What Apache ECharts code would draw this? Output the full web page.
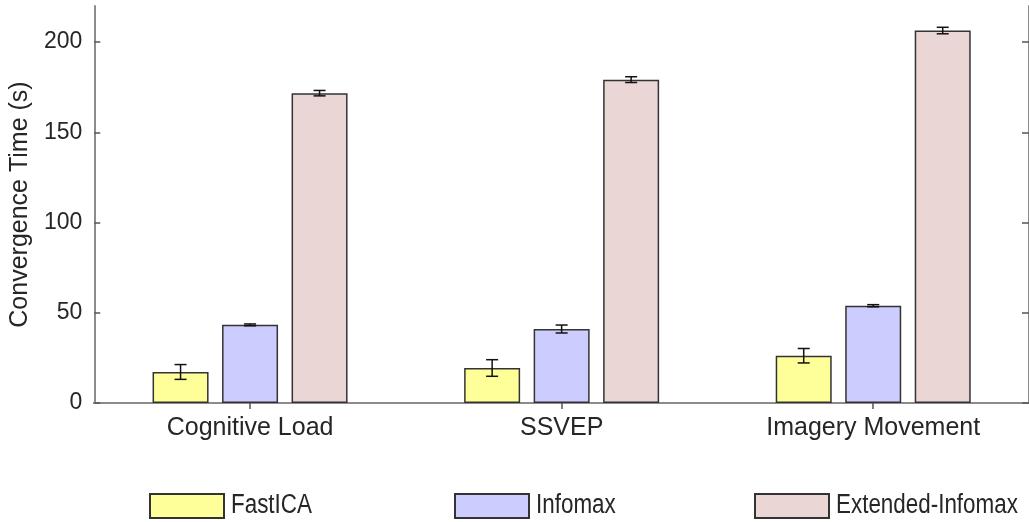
<!DOCTYPE html>
<html>
<head>
<meta charset="utf-8">
<script src="https://cdn.jsdelivr.net/npm/echarts@6/dist/echarts.min.js"></script>
<style>
  html, body { margin: 0; padding: 0; background: #fff; }
  #chart { width: 1029px; height: 522px; }
</style>
</head>
<body>
<div id="chart"></div>
<script>
// Paradigms on the x axis
const categories = ['Cognitive Load', 'SSVEP', 'Imagery Movement'];
const seriesNames = ['FastICA', 'Infomax', 'Extended-Infomax'];

// Mean convergence time (s) per algorithm
const fastICA = [17.2, 19.4, 26.2];
const infomax = [43.3, 41.0, 53.9];
const extendedInfomax = [171.7, 179.2, 206.4];

// Half-width of the error bars (s)
const fastICAErr = [4.1, 4.6, 4.0];
const infomaxErr = [0.5, 2.2, 0.6];
const extendedInfomaxErr = [1.5, 1.6, 1.8];

// Y axis ticks
const yTicks = [0, 50, 100, 150, 200];

const means = [fastICA, infomax, extendedInfomax];
const errs = [fastICAErr, infomaxErr, extendedInfomaxErr];
const colors = ['#FFFF99', '#CCCCFF', '#EBD6D6'];

const BAR_W = 56;
const BAR_GAP = 13.5;
const textColor = '#262626';
const frameColor = '#8c8c8c';
const font = 'Liberation Sans, Arial, sans-serif';

const chart = echarts.init(document.getElementById('chart'), null, { renderer: 'canvas' });

const barSeries = seriesNames.map((name, i) => ({
  name: name,
  type: 'bar',
  xAxisIndex: 0,
  yAxisIndex: 0,
  data: means[i],
  barWidth: BAR_W,
  barGap: (BAR_GAP / BAR_W * 100) + '%',
  itemStyle: { color: colors[i], borderColor: '#333333', borderWidth: 1.5 },
  emphasis: { disabled: true },
  z: 2
}));

// Error bars drawn on top of each bar
const errorSeries = seriesNames.map((name, i) => ({
  type: 'custom',
  xAxisIndex: 0,
  yAxisIndex: 0,
  silent: true,
  z: 5,
  data: categories.map((c, k) => [k, means[i][k] - errs[i][k], means[i][k] + errs[i][k]]),
  renderItem: function (params, api) {
    const k = api.value(0);
    const lo = api.coord([k, api.value(1)]);
    const hi = api.coord([k, api.value(2)]);
    const x = lo[0] + (i - 1) * (BAR_W + BAR_GAP);
    const cap = 6;
    const style = { stroke: '#111111', lineWidth: 1.5, fill: null };
    return {
      type: 'group',
      children: [
        { type: 'line', shape: { x1: x, y1: lo[1], x2: x, y2: hi[1] }, style: style },
        { type: 'line', shape: { x1: x - cap, y1: lo[1], x2: x + cap, y2: lo[1] }, style: style },
        { type: 'line', shape: { x1: x - cap, y1: hi[1], x2: x + cap, y2: hi[1] }, style: style }
      ]
    };
  }
}));

// Legend: one swatch per series, with condensed text labels beside them
const legendLefts = [149, 454, 754];
const SWATCH_W = 74;
const SWATCH_H = 24;
const LEGEND_TOP = 493;
const legends = seriesNames.map((name, i) => ({
  data: [name],
  left: legendLefts[i],
  top: LEGEND_TOP,
  padding: 0,
  icon: 'rect',
  itemWidth: SWATCH_W,
  itemHeight: SWATCH_H,
  itemGap: 0,
  selectedMode: false,
  formatter: () => '',
  textStyle: { fontSize: 1, padding: 0 }
}));
const legendTexts = seriesNames.map((name, i) => ({
  type: 'text',
  x: legendLefts[i] + SWATCH_W + 8,
  y: LEGEND_TOP + SWATCH_H / 2 + 1,
  scaleX: 0.83,
  silent: true,
  style: {
    text: name,
    fill: textColor,
    fontFamily: font,
    fontSize: 27,
    align: 'left',
    verticalAlign: 'middle'
  }
}));

chart.setOption({
  animation: false,
  backgroundColor: '#ffffff',
  grid: { left: 94, right: -4, top: 6, bottom: 119 },
  legend: legends,
  graphic: legendTexts,
  xAxis: [
    {
      type: 'category',
      data: categories,
      position: 'bottom',
      axisLine: { lineStyle: { color: '#262626', width: 2 } },
      axisTick: { show: false },
      axisLabel: { color: textColor, fontFamily: font, fontSize: 25, margin: 13 },
      splitLine: { show: false }
    },
    {
      type: 'category',
      data: categories,
      position: 'top',
      axisLine: { lineStyle: { color: frameColor, width: 2 } },
      axisTick: { show: true, inside: true, alignWithLabel: true, length: 6, lineStyle: { color: '#555555', width: 1.5 } },
      axisLabel: { show: false },
      splitLine: { show: false }
    }
  ],
  yAxis: [
    {
      type: 'value',
      min: 0,
      max: 220,
      interval: 50,
      position: 'left',
      name: 'Convergence Time (s)',
      nameLocation: 'middle',
      nameGap: 60,
      nameTextStyle: { color: textColor, fontFamily: font, fontSize: 25 },
      axisLine: { show: true, lineStyle: { color: frameColor, width: 2 } },
      axisTick: { show: true, inside: true, length: 6, customValues: yTicks, lineStyle: { color: '#555555', width: 1.5 } },
      axisLabel: { color: textColor, fontFamily: font, fontSize: 23, margin: 12, customValues: yTicks },
      splitLine: { show: false }
    },
    {
      type: 'value',
      min: 0,
      max: 220,
      interval: 50,
      position: 'right',
      axisLine: { show: true, lineStyle: { color: frameColor, width: 2 } },
      axisTick: { show: true, inside: true, length: 7, customValues: yTicks, lineStyle: { color: '#555555', width: 1.5 } },
      axisLabel: { show: false },
      splitLine: { show: false }
    }
  ],
  series: barSeries.concat(errorSeries)
});
</script>
</body>
</html>
